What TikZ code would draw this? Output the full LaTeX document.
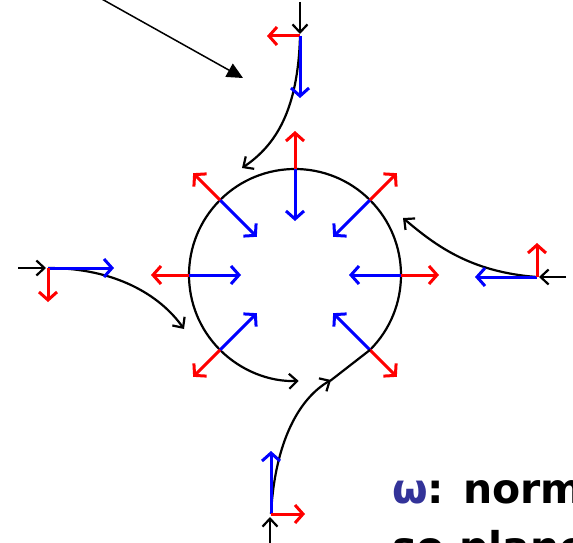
\documentclass[tikz,border=0pt]{standalone}
\usepackage{fontspec}
\newfontfamily\labelfont{DejaVu Sans}
\usepackage{xcolor}
\usepackage{tikz}
\usetikzlibrary{arrows.meta}
\definecolor{omegablue}{RGB}{51,51,153}
\definecolor{vecred}{RGB}{255,0,0}
\definecolor{vecblue}{RGB}{0,0,255}

\begin{document}
\begin{tikzpicture}[x=1pt, y=-1pt,
    flow/.style={black, line width=2.2pt, -{Straight Barb[length=8pt,width=15pt]}},
    invec/.style={vecblue, line width=3pt, -{Straight Barb[length=8pt,width=18pt]}},
    outvec/.style={vecred, line width=3pt, -{Straight Barb[length=8pt,width=18pt]}},
    pointer/.style={black, line width=1.5pt, -{Triangle[length=16pt,width=15pt]}},
    caption/.style={anchor=base west, inner sep=0pt, font=\labelfont\bfseries\fontsize{41}{53}\selectfont}]
	\clip (0,0) rectangle (573,543);
	
	% Centro del circulo
	\coordinate (c) at (295,275);
	\path (c) ++(45:106) coordinate (join);
	
	% Espiral
	\draw[flow] (join) arc (45:-272:106);
	
	% Vectores radiales
	\foreach \a in {0,45,135,180,225,270,315} {
		\draw[invec] (c) ++(\a:106) -- ++(\a+180:52);
		\draw[outvec] (c) ++(\a:106) -- ++(\a:38);
	}
	
	% Linea de arriba
	\coordinate (tj) at (300,36);
	\draw[flow] (300,2) -- (300,34);
	\draw[flow] (tj) .. controls (298,110) and (276,145) .. (242,168);
	\draw[outvec] (tj) -- ++(-33,0);
	\draw[invec] (tj) -- ++(0,62);
	
	% Linea de la izquierda
	\coordinate (lj) at (48,268);
	\draw[flow] (18,268) -- (46,268);
	\draw[flow] (lj) .. controls (115,268) and (160,295) .. (184,329);
	\draw[invec] (lj) -- ++(66,0);
	\draw[outvec] (lj) -- ++(0,34);
	
	% Linea de la derecha
	\coordinate (rj) at (537,277);
	\draw[flow] (566,277) -- (539,277);
	\draw[flow] (rj) .. controls (470,272) and (435,245) .. (403,218);
	\draw[invec] (rj) -- ++(-62,0);
	\draw[outvec] (rj) -- ++(0,-34);
	
	% Linea de abajo
	\coordinate (bj) at (271,514);
	\draw[flow] (270,545) -- (270,517);
	\draw[flow] (bj) .. controls (275,440) and (300,398) .. (331,380);
	\draw[black, line width=2.2pt] (330,381) -- (join);
	\draw[invec] (bj) -- ++(0,-63);
	\draw[outvec] (bj) -- ++(34,0);
	
	% Flecha
	\draw[pointer] (100,-2) -- (243,78);
	
	% Texto
	\node[caption] (omega) at (392,503) {\textcolor{omegablue}{ω}: norm};
	\node[caption] (plane) at (392,561) {so plane};
\end{tikzpicture}
\end{document}
